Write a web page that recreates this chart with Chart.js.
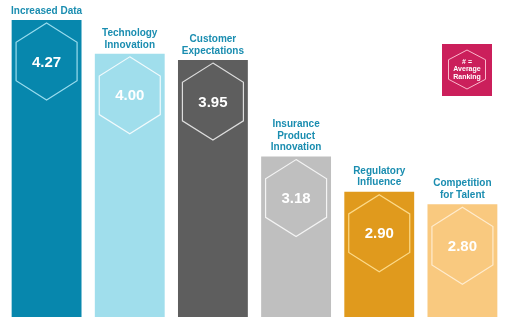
<!DOCTYPE html>
<html>
<head>
<meta charset="utf-8">
<title>Average Ranking</title>
<script src="https://cdn.jsdelivr.net/npm/chart.js@4"></script>
<style>
  body { margin: 0; background: #fff; }
  canvas { display: block; }
</style>
</head>
<body>
<canvas id="rankChart" width="509" height="328"></canvas>
<script>
// categories (multi-line labels drawn above each bar)
const categories = [
  ['Increased Data'],
  ['Technology', 'Innovation'],
  ['Customer', 'Expectations'],
  ['Insurance', 'Product', 'Innovation'],
  ['Regulatory', 'Influence'],
  ['Competition', 'for Talent']
];
const averageRanking = [4.27, 4.00, 3.95, 3.18, 2.90, 2.80];
const barColors = ['#0787ad', '#a0deec', '#5e5e5e', '#bfbfbf', '#e09a1d', '#f9c97f'];
const hexStroke = ['rgba(170,230,245,0.9)', 'rgba(255,255,255,0.85)', 'rgba(235,235,235,0.9)',
                   'rgba(250,250,250,0.9)', 'rgba(255,225,150,0.9)', 'rgba(255,240,215,0.9)'];
const legendLines = ['# =', 'Average', 'Ranking'];

const FONT = '"Liberation Sans", Arial, sans-serif';

function hexPath(ctx, cx, top, w, h) {
  const hw = w / 2;
  ctx.beginPath();
  ctx.moveTo(cx, top);
  ctx.lineTo(cx + hw, top + h / 4);
  ctx.lineTo(cx + hw, top + 3 * h / 4);
  ctx.lineTo(cx, top + h);
  ctx.lineTo(cx - hw, top + 3 * h / 4);
  ctx.lineTo(cx - hw, top + h / 4);
  ctx.closePath();
}

// hexagon badges, values and the category titles
const badges = {
  id: 'badges',
  afterDatasetsDraw(chart) {
    const ctx = chart.ctx;
    const meta = chart.getDatasetMeta(0);
    ctx.save();
    meta.data.forEach((bar, i) => {
      const top = bar.y + 3;
      const h = 77, w = 61;
      hexPath(ctx, bar.x, top, w, h);
      ctx.strokeStyle = hexStroke[i];
      ctx.lineWidth = 1.2;
      ctx.stroke();

      ctx.fillStyle = '#ffffff';
      ctx.font = 'bold 15px ' + FONT;
      ctx.textAlign = 'center';
      ctx.textBaseline = 'middle';
      ctx.fillText(averageRanking[i].toFixed(2), bar.x, top + h / 2 + 1);

      const lines = categories[i];
      ctx.fillStyle = '#1a8db0';
      ctx.font = 'bold 10px ' + FONT;
      lines.forEach((line, j) => {
        const y = bar.y - 9 - (lines.length - 1 - j) * 11.5;
        ctx.fillText(line, bar.x, y);
      });
    });

    // legend box
    const lx = 442, ly = 44, lw = 50, lh = 52;
    ctx.fillStyle = '#cb1f5b';
    ctx.fillRect(lx, ly, lw, lh);
    hexPath(ctx, lx + lw / 2, ly + 6, 37, 39);
    ctx.strokeStyle = 'rgba(255,200,215,0.9)';
    ctx.lineWidth = 1;
    ctx.stroke();
    ctx.fillStyle = '#ffffff';
    ctx.font = 'bold 7px ' + FONT;
    legendLines.forEach((line, j) => {
      ctx.fillText(line, lx + lw / 2, ly + 18 + j * 7.5);
    });
    ctx.restore();
  }
};

new Chart(document.getElementById('rankChart'), {
  type: 'bar',
  data: {
    labels: categories,
    datasets: [{
      data: averageRanking,
      backgroundColor: barColors,
      borderWidth: 0,
      barPercentage: 0.84,
      categoryPercentage: 1
    }]
  },
  options: {
    responsive: false,
    animation: false,
    layout: { padding: { left: 5, right: 5, top: 20, bottom: 11 } },
    plugins: { legend: { display: false }, tooltip: { enabled: false } },
    scales: {
      x: { display: false },
      y: { display: false, min: 1.9, max: 4.27 }
    }
  },
  plugins: [badges]
});
</script>
</body>
</html>
